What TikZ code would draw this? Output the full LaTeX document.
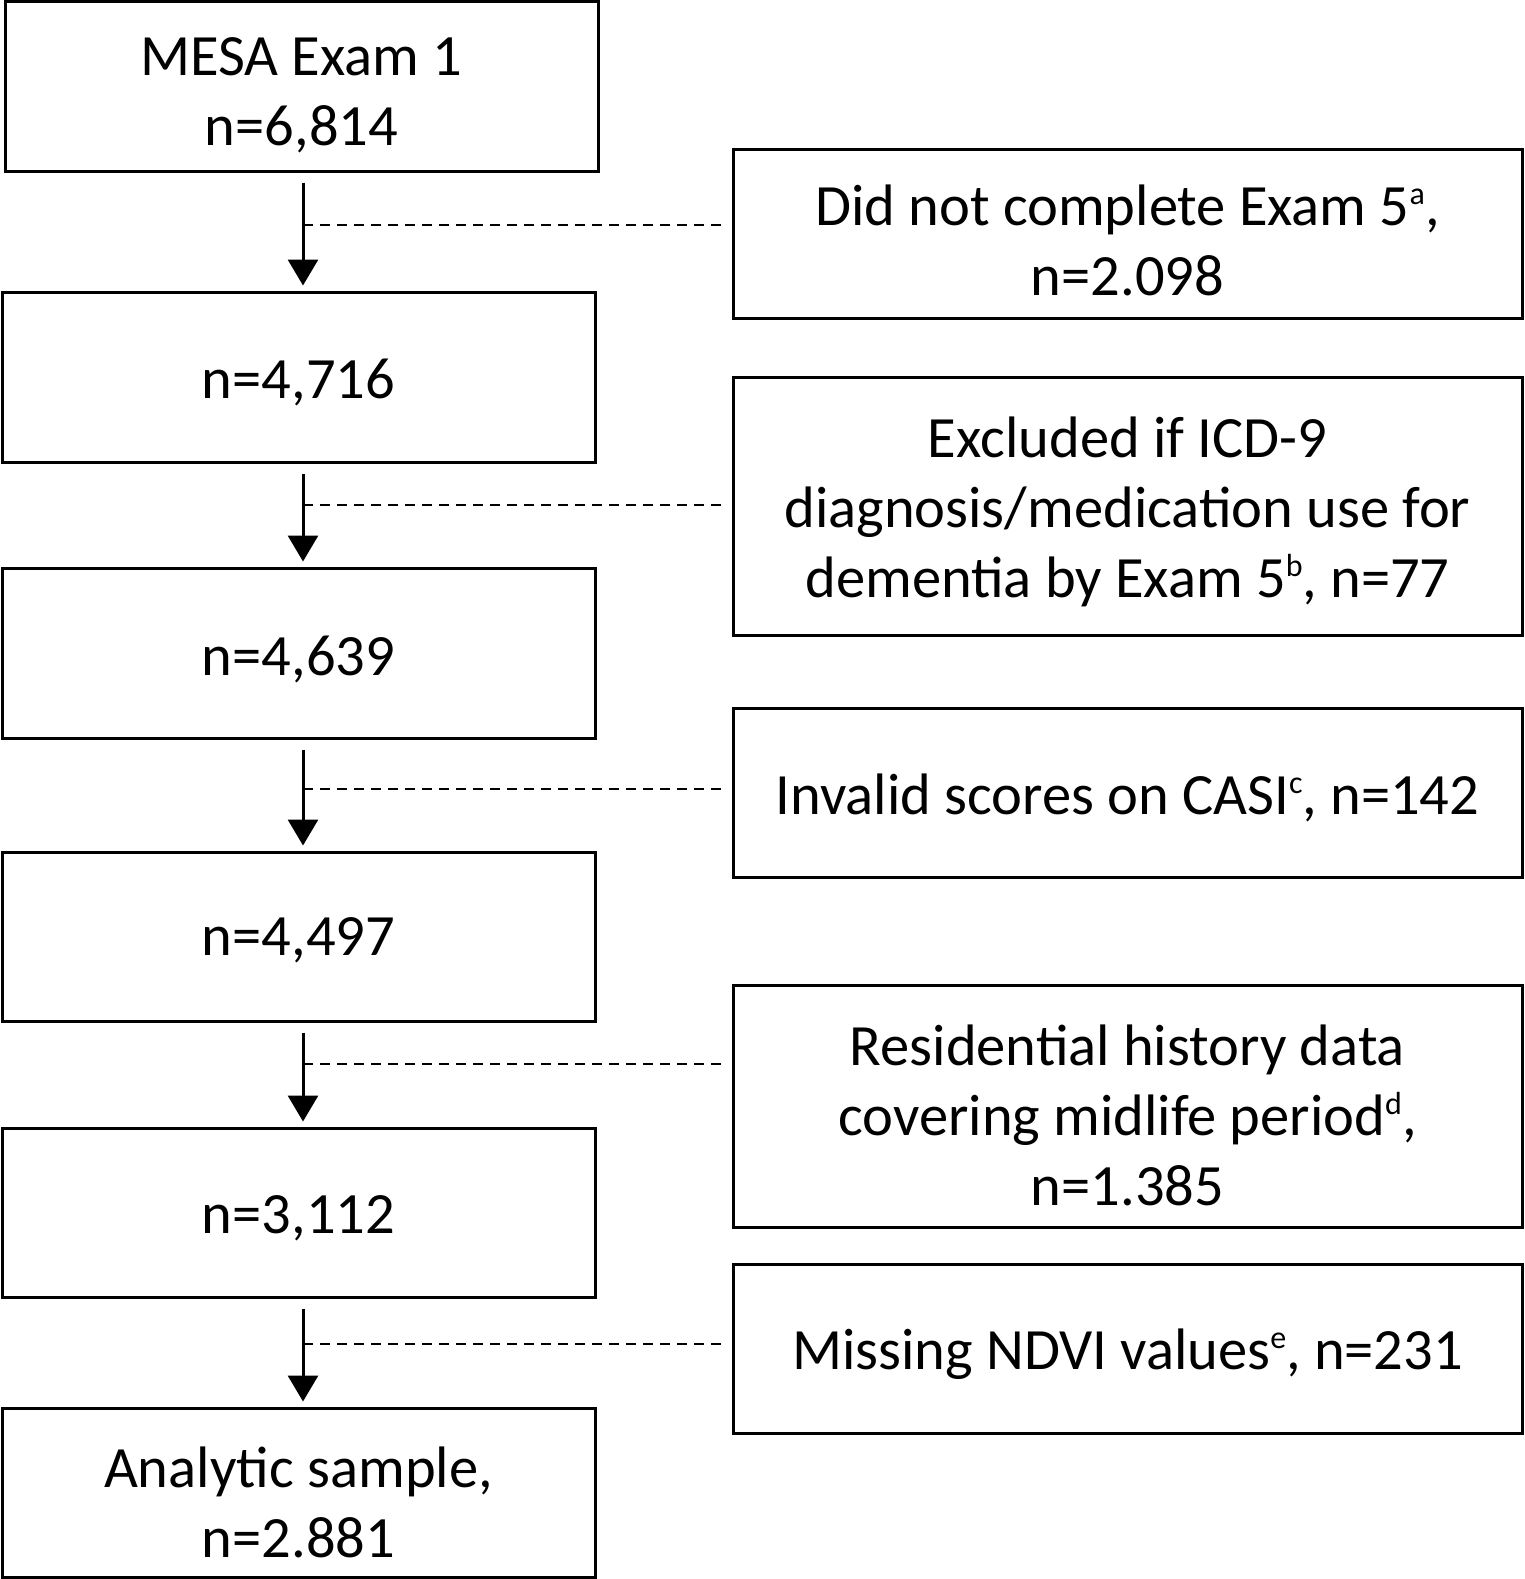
\documentclass[tikz,border=0pt]{standalone}
\usepackage{fontspec}
\setmainfont{Carlito}
\usetikzlibrary{arrows.meta}
\newcommand\supr[1]{\raisebox{21pt}{\fontsize{32}{32}\selectfont #1}}
\begin{document}
\begin{tikzpicture}[x=1pt,y=-1pt,
  box/.style={draw,line width=3pt,inner sep=0pt},
  lbox/.style={box,minimum width=593pt},
  rbox/.style={box,minimum width=789pt},
  txt/.style={align=center,inner sep=0pt,font=\fontsize{58.5}{70}\selectfont},
  arr/.style={line width=3pt,-{Triangle[width=30pt,length=26pt]},shorten <=10pt,shorten >=5pt},
  dline/.style={line width=2pt,dash pattern=on 10pt off 7pt}]
\useasboundingbox (0,0) rectangle (1524,1579);
\fill[white] (0,0) rectangle (1524,1579);
\node[lbox,minimum height=169pt] (b1) at (301.5,86.5) {};
\node[lbox,minimum height=170pt] (b2) at (298.5,377) {};
\node[lbox,minimum height=170pt] (b3) at (298.5,653) {};
\node[lbox,minimum height=169pt] (b4) at (298.5,936.5) {};
\node[lbox,minimum height=169pt] (b5) at (298.5,1212.5) {};
\node[lbox,minimum height=169pt] (b6) at (298.5,1492.5) {};
\node[rbox,minimum height=169pt] (r1) at (1127.5,233.5) {};
\node[rbox,minimum height=258pt] (r2) at (1127.5,506) {};
\node[rbox,minimum height=169pt] (r3) at (1127.5,792.5) {};
\node[rbox,minimum height=242pt] (r4) at (1127.5,1106) {};
\node[rbox,minimum height=169pt] (r5) at (1127.5,1348.5) {};
\node[txt] (tb1) at ([yshift=-9pt]b1.center) {MESA Exam 1\\n=6,814};
\node[txt] (tb2) at ([yshift=-5pt]b2.center) {n=4,716};
\node[txt] (tb3) at ([yshift=-6pt]b3.center) {n=4,639};
\node[txt] (tb4) at ([yshift=-4pt]b4.center) {n=4,497};
\node[txt] (tb5) at ([yshift=-6pt]b5.center) {n=3,112};
\node[txt] (tb6) at ([yshift=-10pt]b6.center) {Analytic sample,\\n=2.881};
\node[txt] (tr1) at ([yshift=-7pt]r1.center) {Did not complete Exam 5\supr{a},\\n=2.098};
\node[txt] (tr2) at ([yshift=-6pt]r2.center) {Excluded if ICD-9\\diagnosis/medication use for\\dementia by Exam 5\supr{b}, n=77};
\node[txt] (tr3) at ([yshift=-5pt]r3.center) {Invalid scores on CASI\supr{c}, n=142};
\node[txt] (tr4) at ([yshift=-9pt]r4.center) {Residential history data\\covering midlife period\supr{d},\\n=1.385};
\node[txt] (tr5) at ([yshift=-6pt]r5.center) {Missing NDVI values\supr{e}, n=231};
\draw[arr] ([xshift=1.5pt]b1.south) -- ([xshift=4.5pt]b2.north);
\draw[arr] ([xshift=4.5pt]b2.south) -- ([xshift=4.5pt]b3.north);
\draw[arr] ([xshift=4.5pt]b3.south) -- ([xshift=4.5pt]b4.north);
\draw[arr] ([xshift=4.5pt]b4.south) -- ([xshift=4.5pt]b5.north);
\draw[arr] ([xshift=4.5pt]b5.south) -- ([xshift=4.5pt]b6.north);
\coordinate (d1) at (303,225);
\coordinate (d2) at (303,505);
\coordinate (d3) at (303,789);
\coordinate (d4) at (303,1064);
\coordinate (d5) at (303,1344);
\draw[dline] (d1) -- ([xshift=-6pt]d1 -| r1.west);
\draw[dline] (d2) -- ([xshift=-6pt]d2 -| r2.west);
\draw[dline] (d3) -- ([xshift=-6pt]d3 -| r3.west);
\draw[dline] (d4) -- ([xshift=-6pt]d4 -| r4.west);
\draw[dline] (d5) -- ([xshift=-6pt]d5 -| r5.west);
\end{tikzpicture}
\end{document}
